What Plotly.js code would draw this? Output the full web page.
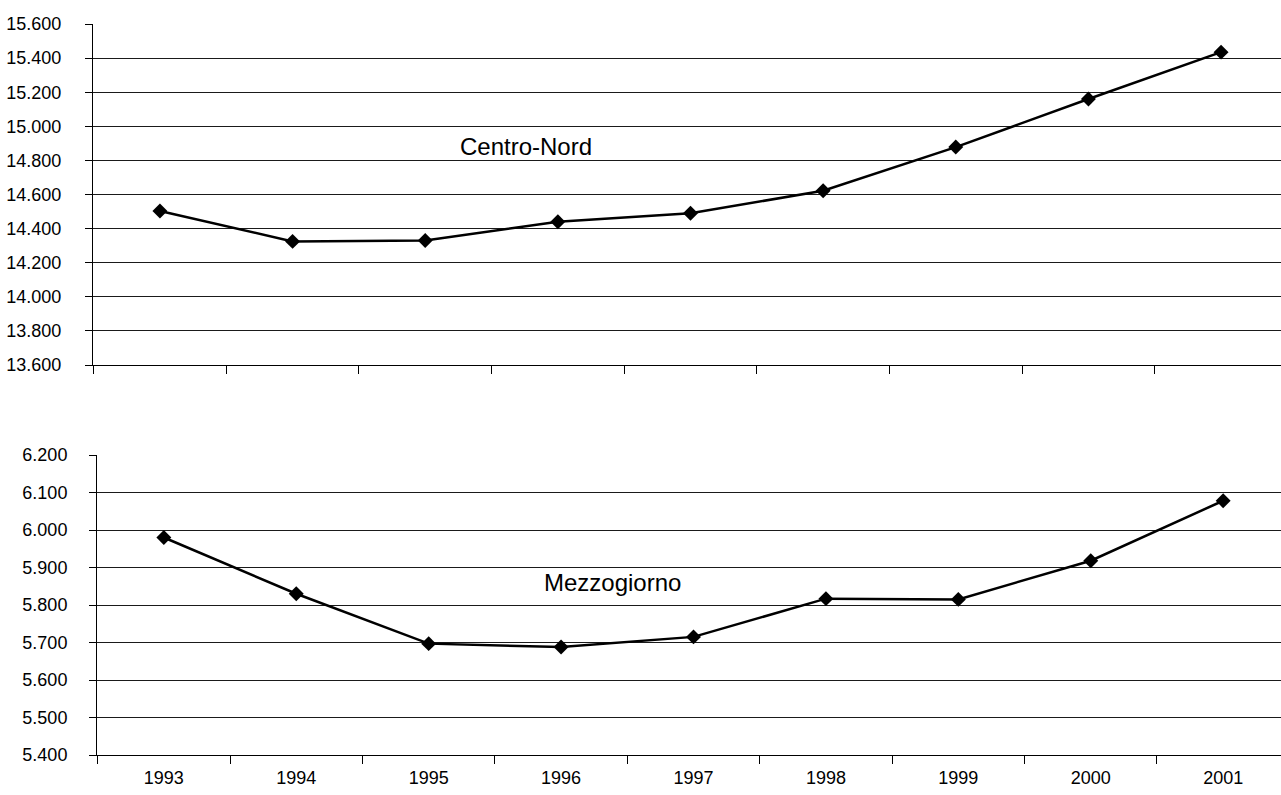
<!DOCTYPE html>
<html>
<head>
<meta charset="utf-8">
<script src="https://cdn.plot.ly/plotly-3.0.1.min.js"></script>
<style>
html, body { margin: 0; padding: 0; overflow: hidden; background: #fff; width: 1281px; height: 795px; }
#wrap { width: 1281px; height: 795px; overflow: hidden; position: relative; }
#chart { width: 1290px; height: 795px; position: absolute; left: 0; top: 0; }
</style>
</head>
<body>
<div id="wrap"><div id="chart"></div></div>
<script>
const years = ['1993','1994','1995','1996','1997','1998','1999','2000','2001'];
const centroNord = [14503, 14325, 14330, 14440, 14490, 14622, 14878, 15160, 15435];
const mezzogiorno = [5980, 5830, 5697, 5688, 5715, 5817, 5815, 5918, 6078];
const topTicks = [13600, 13800, 14000, 14200, 14400, 14600, 14800, 15000, 15200, 15400, 15600];
const bottomTicks = [5400, 5500, 5600, 5700, 5800, 5900, 6000, 6100, 6200];
const labelTop = 'Centro-Nord';
const labelBottom = 'Mezzogiorno';

const W = 1290, H = 795;
const font = { family: 'Liberation Sans, Arial, sans-serif', size: 18, color: '#000' };

const lineStyle = { color: '#000', width: 2.5 };
const markerStyle = { symbol: 'diamond', size: 11.5, color: '#000' };

const traces = [
  { x: years, y: centroNord, xaxis: 'x', yaxis: 'y', type: 'scatter', mode: 'lines+markers',
    line: lineStyle, marker: markerStyle, hoverinfo: 'x+y' },
  { x: years, y: mezzogiorno, xaxis: 'x2', yaxis: 'y2', type: 'scatter', mode: 'lines+markers',
    line: lineStyle, marker: markerStyle, hoverinfo: 'x+y' }
];

const yTopDom = [1 - 365 / H, 1 - 24 / H];
const yBotDom = [1 - 755 / H, 1 - 455 / H];

const baseY = {
  tickmode: 'array', tickformat: ',d', showgrid: true, gridcolor: '#1a1a1a', gridwidth: 1,
  zeroline: false, showline: true, linecolor: '#000', linewidth: 1, mirror: false,
  ticks: 'outside', ticklen: 7, tickcolor: '#000', tickwidth: 1,
  tickfont: font, fixedrange: true
};

const layout = {
  width: W, height: H,
  margin: { l: 0, r: 0, t: 0, b: 0 },
  paper_bgcolor: '#fff', plot_bgcolor: '#fff',
  separators: ',.',
  showlegend: false,
  font: font,
  xaxis: {
    domain: [93 / W, 1288 / W], anchor: 'y', type: 'category',
    showline: true, linecolor: '#000', linewidth: 1, mirror: false,
    ticks: 'outside', tickson: 'boundaries', ticklen: 8, tickcolor: '#000',
    showticklabels: false, showgrid: false, zeroline: false, fixedrange: true
  },
  yaxis: Object.assign({}, baseY, {
    domain: yTopDom, anchor: 'x', range: [topTicks[0], topTicks[topTicks.length - 1]],
    tickvals: topTicks, ticklabelstandoff: 20
  }),
  xaxis2: {
    domain: [97 / W, 1], anchor: 'y2', type: 'category',
    showline: true, linecolor: '#000', linewidth: 1, mirror: false,
    ticks: 'outside', tickson: 'boundaries', ticklen: 8, tickcolor: '#000',
    showticklabels: true, tickfont: font, ticklabelstandoff: 6,
    showgrid: false, zeroline: false, fixedrange: true
  },
  yaxis2: Object.assign({}, baseY, {
    domain: yBotDom, anchor: 'x2', range: [bottomTicks[0], bottomTicks[bottomTicks.length - 1]],
    tickvals: bottomTicks, ticklabelstandoff: 18
  }),
  shapes: [
    { type: 'line', xref: 'x domain', yref: 'y domain', x0: 0.002, x1: 1, y0: 1, y1: 1,
      line: { color: '#fff', width: 3 }, layer: 'above' },
    { type: 'line', xref: 'x2 domain', yref: 'y2 domain', x0: 0.002, x1: 1, y0: 1, y1: 1,
      line: { color: '#fff', width: 3 }, layer: 'above' }
  ],
  annotations: [
    { text: labelTop, xref: 'paper', yref: 'paper', x: 526 / W, y: 1 - 147 / H,
      xanchor: 'center', yanchor: 'middle', showarrow: false,
      font: { family: font.family, size: 24, color: '#000' } },
    { text: labelBottom, xref: 'paper', yref: 'paper', x: 612 / W, y: 1 - 582 / H,
      xanchor: 'center', yanchor: 'middle', showarrow: false,
      font: { family: font.family, size: 24, color: '#000' } }
  ]
};

Plotly.newPlot('chart', traces, layout, { displayModeBar: false, staticPlot: true });
</script>
</body>
</html>
